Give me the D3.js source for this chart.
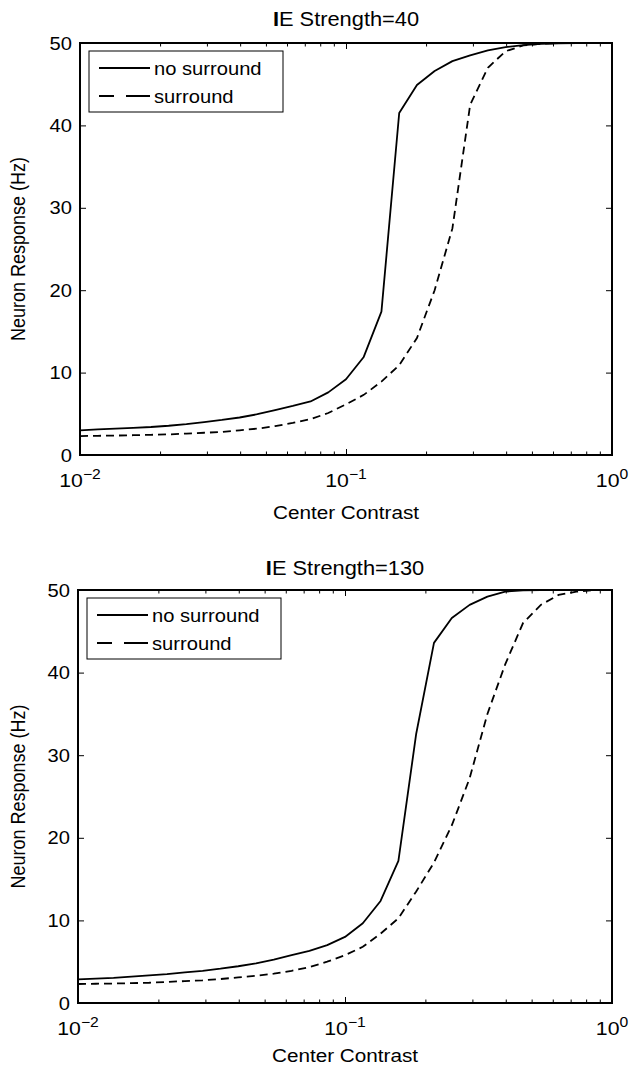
<!DOCTYPE html>
<html>
<head>
<meta charset="utf-8">
<script src="https://cdn.jsdelivr.net/npm/d3@7"></script>
<style>
  body { margin: 0; background: #fff; }
  svg { display: block; font-family: "Liberation Sans", Arial, Helvetica, sans-serif; }
</style>
</head>
<body>
<script>
// center contrast grid (log spaced)
const contrast = [0.01, 0.01166, 0.01359, 0.01585, 0.01848, 0.02154, 0.02512, 0.02929, 0.03415, 0.03981,
  0.04642, 0.05412, 0.0631, 0.07356, 0.08577, 0.1, 0.1166, 0.1359, 0.1585, 0.1848,
  0.2154, 0.2512, 0.2929, 0.3415, 0.3981, 0.4642, 0.5412, 0.631, 0.7356, 0.8577, 1.0];

// IE strength = 40
const noSurround40 = [3.0, 3.1, 3.2, 3.3, 3.4, 3.55, 3.75, 4.0, 4.25, 4.55,
  4.95, 5.45, 5.95, 6.5, 7.6, 9.2, 11.9, 17.4, 41.5, 44.9,
  46.6, 47.8, 48.5, 49.1, 49.5, 49.75, 49.9, 49.95, 50, 50, 50];
const surround40 = [2.3, 2.33, 2.36, 2.4, 2.45, 2.5, 2.6, 2.7, 2.8, 3.0,
  3.2, 3.5, 3.9, 4.35, 5.1, 6.15, 7.3, 8.9, 10.9, 14.2,
  20.0, 27.5, 42.5, 47.0, 49.0, 49.7, 49.9, 50, 50, 50, 50];

// IE strength = 130
const noSurround130 = [2.85, 2.95, 3.05, 3.2, 3.35, 3.5, 3.7, 3.9, 4.15, 4.45,
  4.8, 5.25, 5.8, 6.3, 7.0, 8.0, 9.65, 12.35, 17.2, 32.6,
  43.6, 46.6, 48.2, 49.2, 49.8, 49.95, 50, 50, 50, 50, 50];
const surround130 = [2.3, 2.33, 2.36, 2.4, 2.45, 2.55, 2.65, 2.75, 2.9, 3.1,
  3.3, 3.55, 3.9, 4.35, 5.0, 5.8, 6.8, 8.4, 10.25, 13.5,
  17.0, 21.5, 27.2, 35.0, 41.0, 46.0, 48.2, 49.4, 49.8, 50, 50];

const yTicks = [0, 10, 20, 30, 40, 50];
const xMajor = [0.01, 0.1, 1];
const xExponents = ["\u22122", "\u22121", "0"];
const legendLabels = ["no surround", "surround"];
const strengths = ["40", "130"];

const W = 640, H = 1067;
const SX = 1.12; // the reference type is a little wide

const panels = [
  { strength: strengths[0], solid: noSurround40, dashed: surround40,
    left: 80, right: 612, top: 43, bottom: 455, tickGap: 32, labelGap: 64, titleGap: 17 },
  { strength: strengths[1], solid: noSurround130, dashed: surround130,
    left: 78, right: 612, top: 590, bottom: 1003, tickGap: 32, labelGap: 59, titleGap: 15 }
];

const svg = d3.select("body").append("svg")
  .attr("width", W)
  .attr("height", H);

function wideText(g, x, y, anchor, size) {
  return g.append("text")
    .attr("transform", `translate(${x},${y}) scale(${SX},1)`)
    .attr("text-anchor", anchor)
    .style("font-size", size + "px")
    .attr("fill", "#000");
}

function isDecade(v) {
  const l = Math.log10(v);
  return Math.abs(l - Math.round(l)) < 1e-9;
}

panels.forEach(p => {
  const x = d3.scaleLog().domain([0.01, 1]).range([p.left, p.right]);
  const y = d3.scaleLinear().domain([0, 50]).range([p.bottom, p.top]);
  const g = svg.append("g");

  const minor = x.ticks().filter(v => !isDecade(v));

  // ticks (inward, on all four sides)
  const tickAxes = [
    [d3.axisBottom(x).tickValues(minor).tickSize(-3.5), `translate(0,${p.bottom})`],
    [d3.axisBottom(x).tickValues(xMajor).tickSize(-6), `translate(0,${p.bottom})`],
    [d3.axisTop(x).tickValues(minor).tickSize(-3.5), `translate(0,${p.top})`],
    [d3.axisTop(x).tickValues(xMajor).tickSize(-6), `translate(0,${p.top})`],
    [d3.axisLeft(y).tickValues(yTicks).tickSize(-6), `translate(${p.left},0)`],
    [d3.axisRight(y).tickValues(yTicks).tickSize(-6), `translate(${p.right},0)`]
  ];
  tickAxes.forEach(([ax, tr]) => {
    const a = g.append("g").attr("transform", tr).call(ax.tickFormat(""));
    a.select(".domain").remove();
    a.selectAll("line").attr("stroke", "#000").attr("stroke-width", 1);
  });

  // box
  g.append("rect")
    .attr("x", p.left).attr("y", p.top)
    .attr("width", p.right - p.left).attr("height", p.bottom - p.top)
    .attr("fill", "none").attr("stroke", "#000").attr("stroke-width", 2);

  // y tick labels
  yTicks.forEach(v => {
    wideText(g, p.left - 8, y(v) + 6.5, "end", 18).text(v);
  });

  // x tick labels: 10^n
  xMajor.forEach((v, i) => {
    const t = wideText(g, x(v), p.bottom + p.tickGap, "middle", 19);
    t.append("tspan").text("10");
    t.append("tspan").attr("dy", -8).style("font-size", "14px").text(xExponents[i]);
  });

  // axis labels
  wideText(g, (p.left + p.right) / 2, p.bottom + p.labelGap, "middle", 18.5).text("Center Contrast");
  g.append("text")
    .attr("transform", `translate(25,${(p.top + p.bottom) / 2}) rotate(-90) scale(1,${SX})`)
    .attr("text-anchor", "middle")
    .style("font-size", "18px")
    .text("Neuron Response (Hz)");

  // title
  const title = wideText(g, (p.left + p.right) / 2, p.top - p.titleGap, "middle", 19.5);
  title.append("tspan").style("font-weight", "bold").text("I");
  title.append("tspan").text("E Strength=" + p.strength);

  // curves
  const line = d3.line().x(d => x(d[0])).y(d => y(d[1]));
  g.append("path")
    .datum(d3.zip(contrast, p.solid))
    .attr("d", line)
    .attr("fill", "none").attr("stroke", "#000").attr("stroke-width", 1.8)
    .attr("stroke-linejoin", "round");
  g.append("path")
    .datum(d3.zip(contrast, p.dashed))
    .attr("d", line)
    .attr("fill", "none").attr("stroke", "#000").attr("stroke-width", 1.8)
    .attr("stroke-dasharray", "8,5");

  // legend
  const lg = g.append("g").attr("transform", `translate(${p.left + 9},${p.top + 8})`);
  lg.append("rect")
    .attr("width", 194).attr("height", 61)
    .attr("fill", "#fff").attr("stroke", "#000").attr("stroke-width", 1);
  legendLabels.forEach((lab, i) => {
    const ly = 17 + i * 28;
    lg.append("line")
      .attr("x1", 10).attr("x2", 61).attr("y1", ly).attr("y2", ly)
      .attr("stroke", "#000").attr("stroke-width", 1.8)
      .attr("stroke-dasharray", i === 1 ? "15,12,24,100" : null);
    wideText(lg, 65, ly + 6.5, "start", 18).text(lab);
  });
});
</script>
</body>
</html>
